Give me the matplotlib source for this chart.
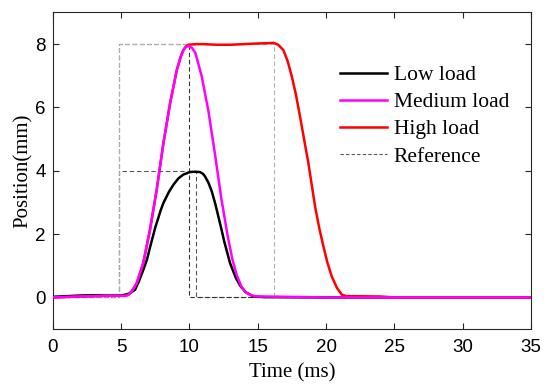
import matplotlib
matplotlib.use("Agg")
import matplotlib.pyplot as plt
from matplotlib.lines import Line2D

# Data
low_x = [0, 1, 2, 3, 4, 5, 5.29, 5.6, 6.02, 6.3, 6.63, 6.9, 7.12, 7.5, 7.9, 8.1, 8.5,
         8.85, 9.2, 9.56, 10.05, 10.4, 10.78, 11.0, 11.15, 11.4, 11.64, 11.9, 12.12,
         12.35, 12.55, 12.98, 13.4, 13.71, 14.1, 14.69, 15.5, 20, 25, 30, 35]
low_y = [0.02, 0.04, 0.06, 0.07, 0.06, 0.06, 0.085, 0.12, 0.24, 0.5, 0.87, 1.2, 1.58,
         2.2, 2.75, 2.98, 3.33, 3.57, 3.76, 3.88, 3.96, 3.97, 3.96, 3.9, 3.82, 3.62, 3.35,
         2.95, 2.56, 2.15, 1.77, 1.08, 0.62, 0.38, 0.17, 0.03, 0.01, 0, 0, 0, 0]

med_x = [0, 2, 4, 5, 5.3, 5.54, 5.8, 6.15, 6.63, 7.12, 7.61, 8.1, 8.59, 9.08, 9.35,
         9.56, 9.75, 9.93, 10.2, 10.45, 10.91, 11.39, 11.85, 12.33, 12.8, 13.15, 13.47,
         13.8, 14.1, 14.44, 14.9, 17, 20, 25, 30, 35]
med_y = [0, 0.03, 0.05, 0.05, 0.05, 0.085, 0.2, 0.45, 1.09, 2.14, 3.4, 4.87, 6.13, 7.18,
         7.58, 7.81, 7.91, 7.94, 7.88, 7.71, 6.97, 5.9, 4.6, 3.15, 1.95, 1.2, 0.7, 0.35,
         0.17, 0.08, 0.03, 0.02, 0, 0, 0, 0]

high_x = [0, 2, 4, 5, 5.3, 5.54, 5.8, 6.15, 6.63, 7.12, 7.61, 8.1, 8.59, 9.08, 9.35,
          9.56, 9.75, 9.93, 10.2, 10.54, 11, 12, 13, 14, 15, 15.8, 16.15, 16.5, 16.88,
          17.2, 17.5, 17.8, 18.1, 18.4, 18.71, 19.2, 19.5, 19.81, 20.1, 20.42, 20.8,
          21.16, 21.5, 22, 24, 25, 30, 35]
high_y = [0, 0.03, 0.05, 0.05, 0.05, 0.085, 0.2, 0.45, 1.09, 2.14, 3.4, 4.87, 6.13, 7.18,
          7.58, 7.81, 7.93, 7.98, 7.99, 8.0, 8.0, 7.98, 7.98, 8.0, 8.02, 8.03, 8.04, 7.98,
          7.81, 7.45, 6.97, 6.4, 5.71, 4.98, 4.24, 2.87, 2.2, 1.61, 1.1, 0.66, 0.3, 0.085,
          0.04, 0.04, 0.03, 0, 0, 0]

ref_low_x = [0, 4.85, 4.85, 10.5, 10.5, 35]
ref_low_y = [0, 0, 4, 4, 0, 0]
ref_med_x = [0, 4.85, 4.85, 10, 10, 35]
ref_med_y = [0, 0, 8, 8, 0, 0]
ref_high_x = [0, 4.85, 4.85, 16.2, 16.2, 35]
ref_high_y = [0, 0, 8, 8, 0, 0]

labels = ["Low load", "Medium load", "High load", "Reference"]
xticks = [0, 5, 10, 15, 20, 25, 30, 35]
yticks = [0, 2, 4, 6, 8]

fig = plt.figure(figsize=(5.5, 3.89), dpi=100)
ax = fig.add_axes([0.0958, 0.154, 0.8697, 0.814])

dash = (4, 2.5)
ax.plot(ref_low_x, ref_low_y, color="#555555", lw=0.8, dashes=dash, zorder=2)
ax.plot(ref_med_x, ref_med_y, color="#333333", lw=0.8, dashes=dash, zorder=2)
ax.plot(ref_high_x, ref_high_y, color="#b0b0b0", lw=0.8, dashes=dash, zorder=2.5)

ax.plot(low_x, low_y, color="black", lw=1.8, zorder=3)
ax.plot(high_x, high_y, color="#ff0000", lw=1.8, zorder=4)
ax.plot(med_x, med_y, color="#ff00ff", lw=1.8, zorder=5)

ax.set_xlim(0, 35)
ax.set_ylim(-1, 9)
ax.set_xticks(xticks)
ax.set_yticks(yticks)
ax.tick_params(direction="in", length=4, width=0.8, top=True, right=True,
               labelsize=13.5, colors="#262626")
ax.tick_params(axis="x", pad=7)
ax.tick_params(axis="y", pad=5)
for lab in ax.get_xticklabels() + ax.get_yticklabels():
    lab.set_family("Liberation Sans")
    lab.set_color("black")
for s in ax.spines.values():
    s.set_color("#262626")
    s.set_linewidth(0.8)

ax.set_xlabel("Time (ms)", family="Liberation Serif", fontsize=15, labelpad=5.5)
ax.set_ylabel("Position(mm)", family="Liberation Serif", fontsize=15, labelpad=2)

handles = [Line2D([], [], color="black", lw=1.8),
           Line2D([], [], color="#ff00ff", lw=1.8),
           Line2D([], [], color="#ff0000", lw=1.8),
           Line2D([], [], color="#555555", lw=0.8, dashes=(3, 2))]
ax.legend(handles, labels, loc="upper left", bbox_to_anchor=(0.6, 0.834),
          frameon=False, prop={"family": "Liberation Serif", "size": 15.5},
          handlelength=2.2, handletextpad=0.3, labelspacing=0.33,
          borderpad=0, borderaxespad=0)

fig.savefig("out.png", dpi=100)
